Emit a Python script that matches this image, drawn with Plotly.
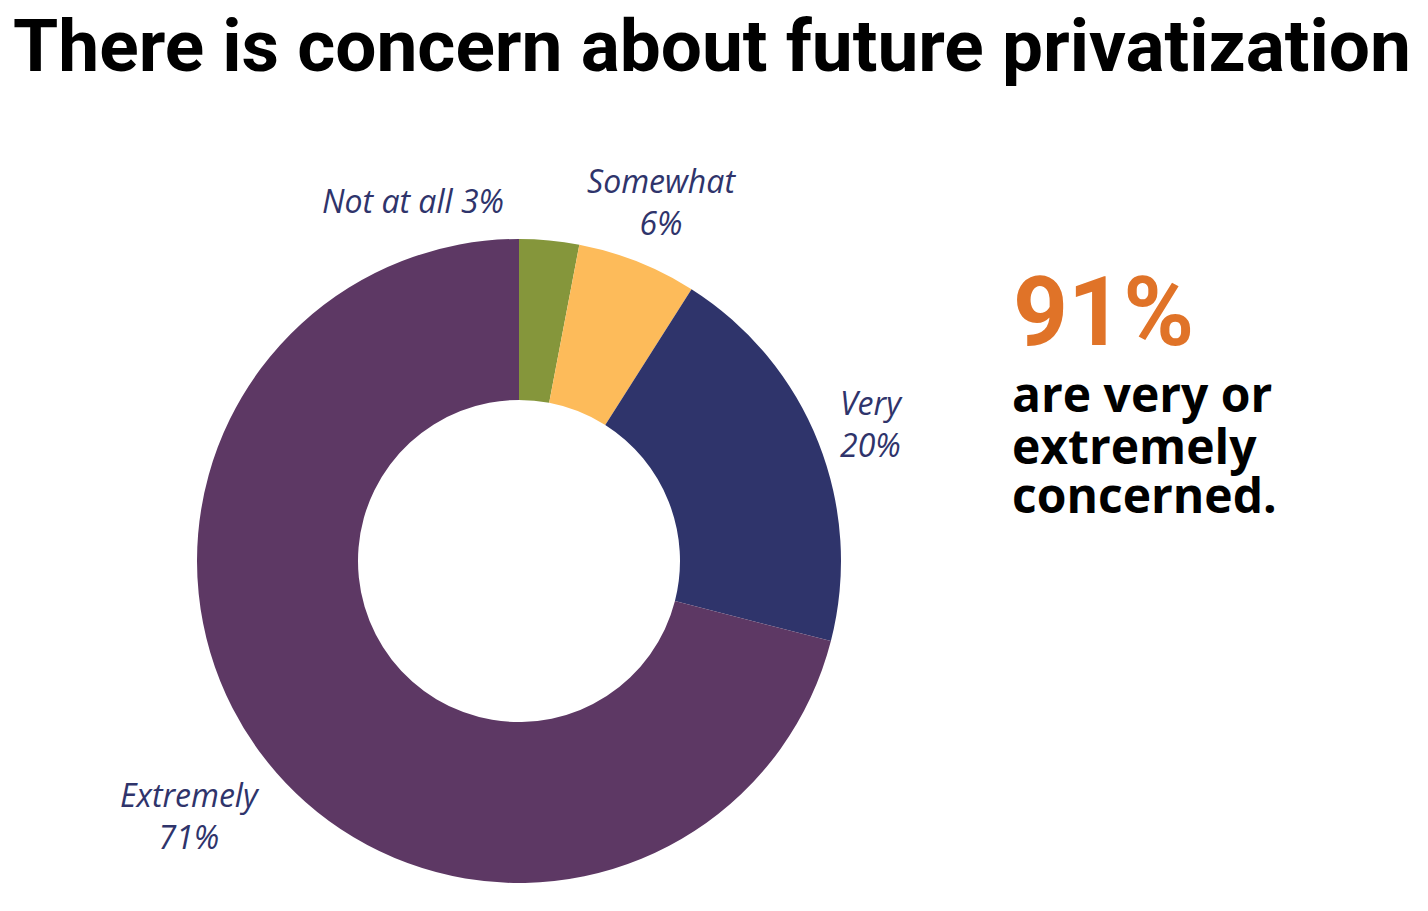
import plotly.graph_objects as go

# survey answers, clockwise from 12 o'clock
labels = ["Not at all", "Somewhat", "Very", "Extremely"]
values = [3, 6, 20, 71]
colors = ["#85963B", "#FDBB5A", "#2F346B", "#5D3864"]

# how each outside label is written, and where its centre sits (px from top-left)
label_rows = ["{} {}%", "{}<br>{}%", "{}<br>{}%", "{}<br>{}%"]
label_xy = [(405, 192), (653, 194), (864, 415), (182, 807)]

headline = "91%"
sublines = ["are very or", "extremely", "concerned."]
subline_y = [386, 437, 486]

W, H = 1428, 911
label_color = "#2F346B"

# donut: centre (511, 553), outer radius 322 px
cx, cy, r = 511, 553, 322

fig = go.Figure()
fig.add_trace(go.Pie(
    labels=labels,
    values=values,
    marker=dict(colors=colors, line=dict(color="white", width=0)),
    hole=0.5,
    sort=False,
    direction="clockwise",
    rotation=0,
    textinfo="none",
    hoverinfo="label+percent",
    showlegend=False,
    domain=dict(x=[(cx - r) / W, (cx + r) / W],
                y=[1 - (cy + r) / H, 1 - (cy - r) / H]),
))

annotations = []
for lab, val, row, (px_, py_) in zip(labels, values, label_rows, label_xy):
    annotations.append(dict(
        text="<i>" + row.format(lab, val) + "</i>",
        x=px_ / W, y=1 - py_ / H, xref="paper", yref="paper",
        xanchor="center", yanchor="middle", showarrow=False,
        font=dict(family="Open Sans", size=32, color=label_color),
    ))

annotations.append(dict(
    text="<b>" + headline + "</b>",
    x=1003 / W, y=1 - 304 / H, xref="paper", yref="paper",
    xanchor="left", yanchor="middle", showarrow=False,
    font=dict(family="Roboto", size=96, color="#E07328"),
))
for line, ly in zip(sublines, subline_y):
    annotations.append(dict(
        text="<b>" + line + "</b>",
        x=1002 / W, y=1 - ly / H, xref="paper", yref="paper",
        xanchor="left", yanchor="middle", align="left", showarrow=False,
        font=dict(family="Open Sans", size=48, color="black"),
    ))

fig.update_layout(
    width=W, height=H,
    margin=dict(l=0, r=0, t=0, b=0),
    paper_bgcolor="white",
    plot_bgcolor="white",
    title=dict(
        text="<b>There is concern about future privatization</b>",
        x=704 / W, xanchor="center", y=1 - 37 / H, yanchor="middle",
        font=dict(family="Roboto", size=73, color="black"),
    ),
    annotations=annotations,
)

fig.write_html("out.html")
